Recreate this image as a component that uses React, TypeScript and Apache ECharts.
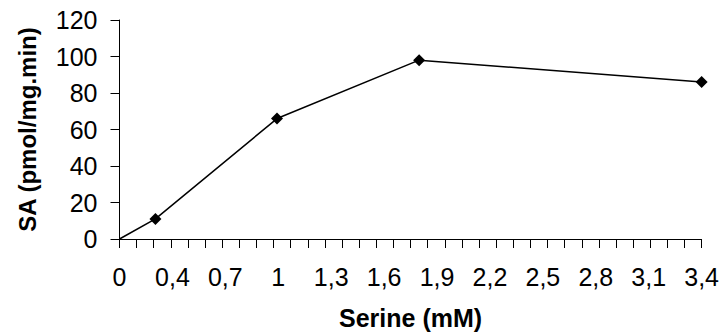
import React, { useEffect, useRef } from "react";
import * as echarts from "echarts";

const xValues = [0, 0.21, 0.92, 1.75, 3.4];
const yValues = [0, 11, 66, 98, 86];
const xTickLabels = ["0", "0,4", "0,7", "1", "1,3", "1,6", "1,9", "2,2", "2,5", "2,8", "3,1", "3,4"];
const xMax = 3.4;
const xMinorStep = 0.1;

export default function App() {
  const ref = useRef<HTMLDivElement>(null);
  useEffect(() => {
    if (!ref.current) return;
    const chart = echarts.init(ref.current, undefined, { renderer: "svg" });
    const labelStep = xMax / (xTickLabels.length - 1);
    const labelPos = xTickLabels.map((_, i) => i * labelStep);
    const tickPos: number[] = [];
    for (let i = 0; i <= Math.round(xMax / xMinorStep); i++) tickPos.push(+(i * xMinorStep).toFixed(4));
    const font = "'Liberation Sans', Arial, sans-serif";
    chart.setOption({
      animation: false,
      grid: { left: 119.5, right: 20, top: 20, bottom: 95.7, containLabel: false },
      xAxis: {
        type: "value",
        min: 0,
        max: xMax,
        name: "Serine (mM)",
        nameLocation: "middle",
        nameGap: 66,
        nameTextStyle: { fontFamily: font, fontSize: 25, fontWeight: "bold", color: "#000" },
        axisLine: { show: true, onZero: false, lineStyle: { color: "#000", width: 1 } },
        axisTick: { show: true, customValues: tickPos, length: 9, lineStyle: { color: "#000" } },
        axisLabel: {
          customValues: labelPos,
          formatter: (v: number) => xTickLabels[Math.round(v / labelStep)] ?? "",
          fontFamily: font,
          fontSize: 25,
          color: "#000",
          margin: 25,
        },
        splitLine: { show: false },
      },
      yAxis: {
        type: "value",
        min: 0,
        max: 120,
        interval: 20,
        name: "SA (pmol/mg.min)",
        nameLocation: "middle",
        nameGap: 80,
        nameRotate: 90,
        nameTextStyle: { fontFamily: font, fontSize: 24, fontWeight: "bold", color: "#000" },
        axisLine: { show: true, lineStyle: { color: "#000", width: 1 } },
        axisTick: { show: true, length: 9, lineStyle: { color: "#000" } },
        axisLabel: { fontFamily: font, fontSize: 25, color: "#000", margin: 22 },
        splitLine: { show: false },
      },
      series: [
        {
          type: "line",
          data: xValues.map((x, i) =>
            i === 0 ? { value: [x, yValues[i]], symbol: "none" } : [x, yValues[i]]
          ),
          symbol: "diamond",
          symbolSize: 12,
          showAllSymbol: true,
          clip: false,
          lineStyle: { color: "#000", width: 1.5 },
          itemStyle: { color: "#000" },
        },
      ],
    });
    return () => chart.dispose();
  }, []);
  return <div ref={ref} style={{ width: 722, height: 335, position: "absolute", left: 0, top: 0 }} />;
}
